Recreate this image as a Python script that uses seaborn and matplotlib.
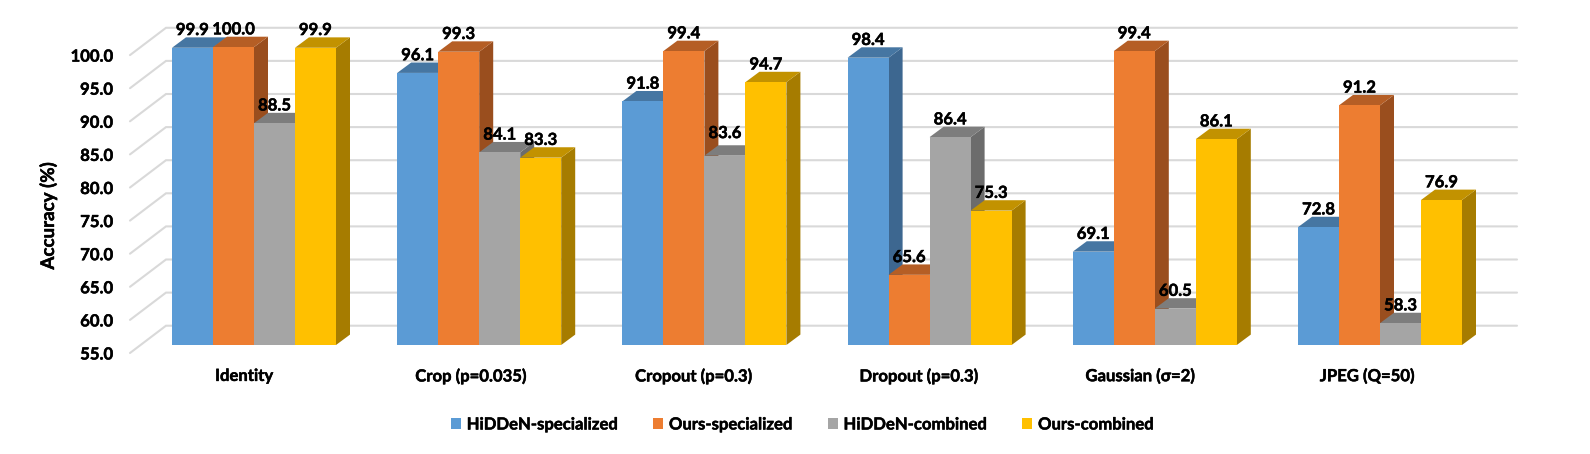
#!/usr/bin/env python3

import numpy as np
import pandas as pd
import matplotlib
matplotlib.use("Agg")
import matplotlib.pyplot as plt
import matplotlib.transforms as mtransforms
import matplotlib.patheffects as pe
from matplotlib.patches import Polygon, Patch
import seaborn as sns

categories = ["Identity", "Crop (p=0.035)", "Cropout (p=0.3)", "Dropout (p=0.3)", "Gaussian (σ=2)", "JPEG (Q=50)"]
series = ["HiDDeN-specialized", "Ours-specialized", "HiDDeN-combined", "Ours-combined"]
hidden_specialized = [99.9, 96.1, 91.8, 98.4, 69.1, 72.8]
ours_specialized = [100.0, 99.3, 99.4, 65.6, 99.4, 91.2]
hidden_combined = [88.5, 84.1, 83.6, 86.4, 60.5, 58.3]
ours_combined = [99.9, 83.3, 94.7, 75.3, 86.1, 76.9]
y_ticks = [55, 60, 65, 70, 75, 80, 85, 90, 95, 100]

front_colors = ["#5B9BD5", "#ED7D31", "#A5A5A5", "#FFC000"]
top_colors = ["#4676A2", "#B55E25", "#7D7D7D", "#C29200"]
side_colors = ["#3D6790", "#9A4E1E", "#6C6C6C", "#A67C00"]
# label shift from the group centre, in pixels
label_shift = [-10, -8.5, -11, -11, -15, -13]

W, H = 1590, 454
GROUP_PX = 225.2
UNIT_PX = 6.62
FONT = ["Lato", "DejaVu Sans"]
FS = 12

sns.set_theme(style="white")
plt.rcParams["font.family"] = FONT
plt.rcParams["font.weight"] = "bold"

# pixel sizes to data units
px_x = 1 / GROUP_PX
px_y = 1 / UNIT_PX
depth_x = 14 * px_x
depth_y = 10.4 * px_y

df = pd.DataFrame({
    "category": categories * 4,
    "series": np.repeat(series, len(categories)),
    "value": hidden_specialized + ours_specialized + hidden_combined + ours_combined,
})

fig = plt.figure(figsize=(W / 100, H / 100), dpi=100)
left = 254 - GROUP_PX / 2
ax = fig.add_axes([left / W, (H - 345) / H, 6 * GROUP_PX / W, 45 * UNIT_PX / H])

sns.barplot(data=df, x="category", y="value", hue="series", order=categories, hue_order=series,
            palette=front_colors, width=164 / GROUP_PX, gap=0, saturation=1, errorbar=None,
            legend=False, ax=ax, linewidth=0)
ax.set_xlim(-0.5, 5.5)
ax.set_ylim(55, 100)

# walls with gridlines
wall_left = (166 - 254) * px_x
wall_right = (1517 - 254) * px_x
front_left = (130 - 254) * px_x
for t in y_ticks:
    ax.plot([front_left, wall_left, wall_right],
            [t - 8 * px_y, t + 19.3 * px_y, t + 19.3 * px_y],
            color="#D9D9D9", lw=1.5, clip_on=False, zorder=1, solid_joinstyle="miter")

# 3d faces for each bar
for g in range(len(categories)):
    for s, container in enumerate(ax.containers):
        bar = container[g]
        x0 = bar.get_x()
        x1 = x0 + bar.get_width()
        y1 = bar.get_height()
        z = 3 + g + s * 0.1
        bar.set_zorder(z + 0.02)
        side = Polygon([(x1, 55), (x1 + depth_x, 55 + depth_y), (x1 + depth_x, y1 + depth_y), (x1, y1)],
                       closed=True, fc=side_colors[s], ec="none", clip_on=False, zorder=z)
        top = Polygon([(x0, y1), (x0 + depth_x, y1 + depth_y), (x1 + depth_x, y1 + depth_y), (x1, y1)],
                      closed=True, fc=top_colors[s], ec="none", clip_on=False, zorder=z + 0.01)
        ax.add_patch(side)
        ax.add_patch(top)

# heavier strokes, the reference text is set darker than Lato bold
thick = [pe.withStroke(linewidth=0.35, foreground="black")]

for s, container in enumerate(ax.containers):
    labels = ax.bar_label(container, fmt="%.1f", padding=7, fontsize=FS, fontweight="bold",
                          color="black", zorder=20)
    for g, lab in enumerate(labels):
        lab.set_clip_on(False)
        lab.set_zorder(20)
        lab.set_path_effects(thick)
        # the 83.6 label sits a little higher in the reference
        if s == 2 and g == 2:
            lab.xyann = (lab.xyann[0], lab.xyann[1] + 3.5)

sns.despine(ax=ax, left=True, bottom=True, top=True, right=True)
ax.set_xlabel("")
ax.set_ylabel("Accuracy (%)", fontsize=13.5, fontweight="bold", color="black", path_effects=thick)
ax.yaxis.set_label_coords((57 - left) / (6 * GROUP_PX), (345 - 216) / (45 * UNIT_PX))

ax.set_yticks(y_ticks)
ax.set_yticklabels([f"{t:.1f}" for t in y_ticks], fontsize=FS, fontweight="bold", color="black", path_effects=thick)
ax.set_xticks(range(len(categories)))
ax.set_xticklabels(categories, fontsize=FS, fontweight="bold", color="black", path_effects=thick)
ax.tick_params(axis="both", length=0)
ax.tick_params(axis="y", pad=20.4)
ax.tick_params(axis="x", pad=16.5)

for lab in ax.get_yticklabels():
    lab.set_transform(lab.get_transform() + mtransforms.ScaledTranslation(0, -8 / fig.dpi, fig.dpi_scale_trans))
for lab, shift in zip(ax.get_xticklabels(), label_shift):
    lab.set_transform(lab.get_transform() + mtransforms.ScaledTranslation(shift / fig.dpi, 0, fig.dpi_scale_trans))

handles = [Patch(fc=c, ec="none", label=n) for c, n in zip(front_colors, series)]
leg = fig.legend(handles=handles, loc="center", bbox_to_anchor=(802 / W, (H - 424.5) / H), ncol=4, frameon=False,
                 handlelength=0.6, handleheight=0.6, handletextpad=0.35, columnspacing=2.15,
                 labelcolor="black", prop={"family": FONT, "weight": "bold", "size": FS})
for t in leg.get_texts():
    t.set_path_effects(thick)

fig.savefig("out.png", dpi=100)
